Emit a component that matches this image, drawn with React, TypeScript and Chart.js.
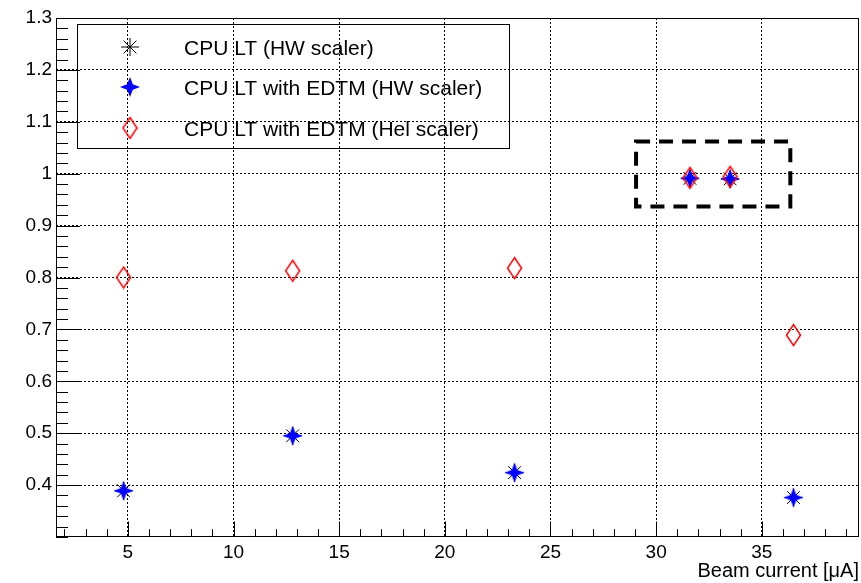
import React, { useEffect, useRef } from "react";
import { Chart, registerables } from "chart.js";

Chart.register(...registerables);

// ---- data ----
const beamCurrent = [4.8, 12.8, 23.3, 31.6, 33.5, 36.5];
const cpuLtHw = [0.389, 0.495, 0.424, 0.991, 0.990, 0.376];
const cpuLtEdtmHw = [0.389, 0.495, 0.424, 0.991, 0.990, 0.376];
const cpuLtEdtmHel = [0.800, 0.813, 0.818, 0.992, 0.994, 0.689];

const legendLabels = [
  "CPU LT (HW scaler)",
  "CPU LT with EDTM (HW scaler)",
  "CPU LT with EDTM (Hel scaler)",
];

const xTickValues = [5, 10, 15, 20, 25, 30, 35];
const yTickValues = [0.4, 0.5, 0.6, 0.7, 0.8, 0.9, 1.0, 1.1, 1.2, 1.3];
const xRange = [1.6, 39.6];
const yRange = [0.3, 1.3];
const xMinorStep = 1;
const yMinorStep = 0.02;
const xAxisTitle = "Beam current [\u03bcA]";

// highlighted region (dashed box) in data coordinates
const boxX = [29.05, 36.35];
const boxY = [0.937, 1.062];

const FONT = "'Liberation Sans', Arial, Helvetica, sans-serif";

function makeStar4(color: string, r: number, ri: number): HTMLCanvasElement {
  const s = Math.ceil(2 * r + 2);
  const c = document.createElement("canvas");
  c.width = s;
  c.height = s;
  const ctx = c.getContext("2d")!;
  const cx = s / 2;
  const cy = s / 2;
  ctx.beginPath();
  for (let i = 0; i < 8; i++) {
    const a = -Math.PI / 2 + (i * Math.PI) / 4;
    const rr = i % 2 === 0 ? r : ri;
    ctx.lineTo(cx + rr * Math.cos(a), cy + rr * Math.sin(a));
  }
  ctx.closePath();
  ctx.fillStyle = color;
  ctx.fill();
  return c;
}

function makeDiamond(color: string, hw: number, hh: number): HTMLCanvasElement {
  const w = Math.ceil(2 * hw + 3);
  const h = Math.ceil(2 * hh + 3);
  const c = document.createElement("canvas");
  c.width = w;
  c.height = h;
  const ctx = c.getContext("2d")!;
  const cx = w / 2;
  const cy = h / 2;
  ctx.beginPath();
  ctx.moveTo(cx, cy - hh);
  ctx.lineTo(cx + hw, cy);
  ctx.lineTo(cx, cy + hh);
  ctx.lineTo(cx - hw, cy);
  ctx.closePath();
  ctx.strokeStyle = color;
  ctx.lineWidth = 1.5;
  ctx.stroke();
  return c;
}

function drawAsterisk(ctx: CanvasRenderingContext2D, x: number, y: number, r: number) {
  const d = r * Math.SQRT1_2;
  ctx.save();
  ctx.strokeStyle = "#000";
  ctx.lineWidth = 1;
  ctx.beginPath();
  ctx.moveTo(x - r, y);
  ctx.lineTo(x + r, y);
  ctx.moveTo(x, y - r);
  ctx.lineTo(x, y + r);
  ctx.moveTo(x - d, y - d);
  ctx.lineTo(x + d, y + d);
  ctx.moveTo(x - d, y + d);
  ctx.lineTo(x + d, y - d);
  ctx.stroke();
  ctx.restore();
}

export default function App() {
  const ref = useRef<HTMLCanvasElement>(null);

  useEffect(() => {
    if (!ref.current) return;
    const starImg = makeStar4("#0000ff", 10, 4);
    const diamondImg = makeDiamond("#ff0000", 7, 10.5);

    const framePlugin = {
      id: "rootFrame",
      beforeDatasetsDraw(chart: any) {
        const { ctx, chartArea } = chart;
        const xs = chart.scales.x;
        const ys = chart.scales.y;
        const { left, right, top, bottom } = chartArea;
        ctx.save();
        ctx.strokeStyle = "#000";
        ctx.lineWidth = 1;
        ctx.strokeRect(left + 0.5, top + 0.5, right - left - 1, bottom - top - 1);
        // x ticks (inside, upwards)
        const xMajor = (bottom - top) * 0.03;
        ctx.beginPath();
        const nx = Math.round((xRange[1] - xRange[0]) / xMinorStep) + 2;
        for (let i = 0; i < nx; i++) {
          const v = Math.ceil(xRange[0]) + i * xMinorStep;
          if (v > xRange[1]) break;
          const px = Math.round(xs.getPixelForValue(v)) + 0.5;
          const isMajor = xTickValues.includes(v);
          const len = isMajor ? xMajor : xMajor / 2;
          ctx.moveTo(px, bottom);
          ctx.lineTo(px, bottom - len);
        }
        // y ticks (inside, rightwards)
        const yMajor = (right - left) * 0.03;
        const ny = Math.round((yRange[1] - yRange[0]) / yMinorStep);
        for (let i = 0; i <= ny; i++) {
          const v = yRange[0] + i * yMinorStep;
          const py = Math.round(ys.getPixelForValue(v)) + 0.5;
          const isMajor = yTickValues.some((t) => Math.abs(t - v) < 1e-6);
          const len = isMajor ? yMajor : yMajor / 2;
          ctx.moveTo(left, py);
          ctx.lineTo(left + len, py);
        }
        ctx.stroke();
        ctx.restore();
      },
      afterDatasetsDraw(chart: any) {
        const { ctx, chartArea } = chart;
        const xs = chart.scales.x;
        const ys = chart.scales.y;
        // dashed highlight box
        ctx.save();
        ctx.strokeStyle = "#000";
        ctx.lineWidth = 4;
        ctx.setLineDash([14, 9]);
        const bx0 = xs.getPixelForValue(boxX[0]);
        const bx1 = xs.getPixelForValue(boxX[1]);
        const by0 = ys.getPixelForValue(boxY[1]);
        const by1 = ys.getPixelForValue(boxY[0]);
        ctx.strokeRect(bx0, by0, bx1 - bx0, by1 - by0);
        ctx.restore();

        // legend box
        const lx = chartArea.left + 21;
        const ly = chartArea.top + 6;
        const lw = 432;
        const lh = 124;
        ctx.save();
        ctx.strokeStyle = "#000";
        ctx.lineWidth = 1;
        ctx.strokeRect(lx + 0.5, ly + 0.5, lw, lh);
        const markerX = lx + 53;
        const textX = lx + 107;
        const rows = [ly + 23, ly + 63, ly + 104];
        drawAsterisk(ctx, markerX, rows[0], 9);
        ctx.drawImage(starImg, markerX - starImg.width / 2, rows[1] - starImg.height / 2);
        ctx.drawImage(diamondImg, markerX - diamondImg.width / 2, rows[2] - diamondImg.height / 2);
        ctx.fillStyle = "#000";
        ctx.font = `21px ${FONT}`;
        ctx.textAlign = "left";
        ctx.textBaseline = "alphabetic";
        legendLabels.forEach((t, i) => {
          ctx.fillText(t, textX, rows[i] + 8);
        });
        ctx.restore();
      },
    };

    const chart = new Chart(ref.current, {
      type: "scatter",
      data: {
        datasets: [
          {
            label: legendLabels[0],
            data: beamCurrent.map((x, i) => ({ x, y: cpuLtHw[i] })),
            pointStyle: "star",
            pointRadius: 9,
            borderColor: "#000",
            backgroundColor: "#000",
            borderWidth: 1,
            order: 2,
          },
          {
            label: legendLabels[1],
            data: beamCurrent.map((x, i) => ({ x, y: cpuLtEdtmHw[i] })),
            pointStyle: starImg as any,
            pointRadius: 10,
            order: 1,
          },
          {
            label: legendLabels[2],
            data: beamCurrent.map((x, i) => ({ x, y: cpuLtEdtmHel[i] })),
            pointStyle: diamondImg as any,
            pointRadius: 10,
            order: 0,
          },
        ],
      },
      options: {
        responsive: false,
        animation: false,
        events: [],
        layout: { autoPadding: false, padding: { left: 0, top: 18, right: 2, bottom: 0 } },
        plugins: {
          legend: { display: false },
          tooltip: { enabled: false },
        },
        scales: {
          x: {
            type: "linear",
            min: xRange[0],
            max: xRange[1],
            afterFit: (s: any) => {
              s.height = 46;
              s.paddingLeft = 0;
              s.paddingRight = 0;
            },
            afterBuildTicks: (s: any) => {
              s.ticks = xTickValues.map((v) => ({ value: v }));
            },
            grid: { color: "#000", lineWidth: 1, drawTicks: false },
            border: { display: false, dash: [2, 2] },
            ticks: {
              color: "#000",
              font: { family: FONT, size: 19 },
              padding: 4,
              maxRotation: 0,
              autoSkip: false,
              callback: (v: any) => String(v),
            },
            title: {
              display: true,
              text: xAxisTitle,
              align: "end",
              color: "#000",
              font: { family: FONT, size: 20 },
              padding: 0,
            },
          },
          y: {
            type: "linear",
            min: yRange[0],
            max: yRange[1],
            afterFit: (s: any) => {
              s.width = 56;
              s.paddingTop = 0;
              s.paddingBottom = 0;
            },
            afterBuildTicks: (s: any) => {
              s.ticks = yTickValues.map((v) => ({ value: v }));
            },
            grid: { color: "#000", lineWidth: 1, drawTicks: false },
            border: { display: false, dash: [2, 2] },
            ticks: {
              color: "#000",
              font: { family: FONT, size: 19 },
              padding: 4,
              autoSkip: false,
              callback: (v: any) => String(Math.round(Number(v) * 10) / 10),
            },
          },
        },
      },
      plugins: [framePlugin],
    } as any);

    return () => chart.destroy();
  }, []);

  return (
    <div style={{ position: "absolute", left: 0, top: 0, width: 861, height: 583, background: "#fff" }}>
      <canvas ref={ref} width={861} height={583} style={{ width: 861, height: 583, display: "block" }} />
    </div>
  );
}
